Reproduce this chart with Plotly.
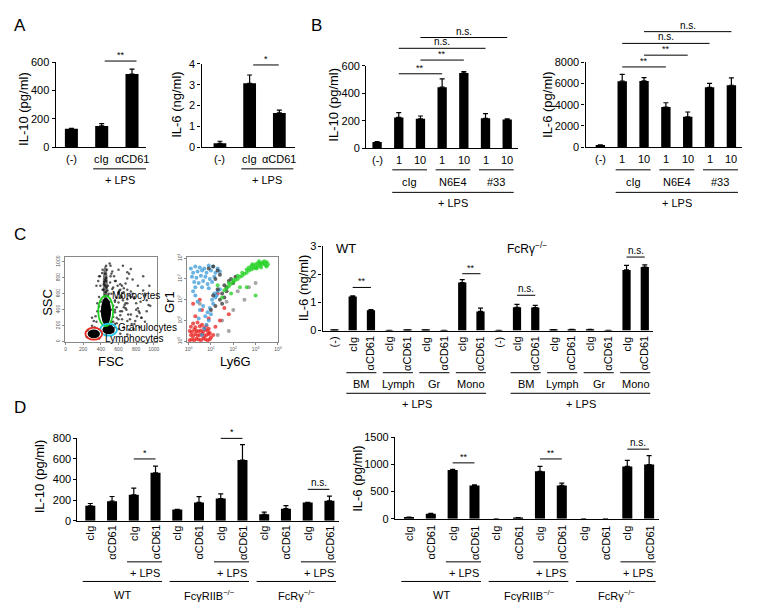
import plotly.graph_objects as go

W, H = 778, 602
FONT = "Liberation Sans, Arial, Helvetica, sans-serif"


def X(px):
    return px / W


def Y(py):
    return 1 - py / H


# ---------------- data ----------------
# Panel A
a_ticks = ["(-)", "cIg", "αCD61"]
a_il10 = [130, 150, 515]
a_il10_err = [3, 16, 35]
a_il6 = [0.19, 3.07, 1.65]
a_il6_err = [0.1, 0.4, 0.13]

# Panel B
b_ticks = ["(-)", "1", "10", "1", "10", "1", "10"]
b_groups = ["cIg", "N6E4", "#33"]
b_il10 = [45, 225, 215, 445, 548, 218, 210]
b_il10_err = [3, 35, 20, 60, 10, 35, 5]
b_il6 = [220, 6200, 6230, 3780, 2860, 5630, 5820]
b_il6_err = [0, 650, 300, 400, 450, 370, 700]
b_sig = [(1, 3, "**"), (2, 4, "**"), (1, 5, "n.s."), (2, 6, "n.s.")]

# Panel C flow: FSC/SSC gates and events
gate_names = ["Monocytes", "Granulocytes", "Lymphocytes"]
gate_fsc = [455, 488, 320]
gate_ssc = [385, 150, 100]
gate_rx = [85, 95, 95]
gate_ry = [190, 75, 75]
gate_colors = ["#1fd01f", "#1cc8e8", "#e8281e"]
core_fsc = [458, 488, 320, 450]
core_ssc = [380, 150, 98, 720]
core_rx = [58, 70, 70, 28]
core_ry = [170, 58, 55, 230]
core_alpha = [1.0, 1.0, 1.0, 0.55]
events_fsc = [420, 460, 500, 380, 450, 520, 600, 650, 700, 560, 480, 420, 540, 620, 700, 760,
              820, 880, 900, 850, 780, 700, 640, 600, 560, 520, 380, 360, 400, 560, 620, 680,
              740, 800, 860, 920, 700, 640, 580, 560, 600, 660, 720, 780, 840, 900, 620, 700,
              540, 350, 330, 250, 240, 380, 300, 480, 430, 500, 660, 740, 950, 960, 430, 450,
              440, 460, 450, 470, 455, 445, 465, 435, 460, 475, 490, 415, 505, 530, 395, 510,
              300, 320, 340, 360, 380, 400, 520, 540, 560, 580, 600, 620, 640, 660, 680, 700,
              720, 740, 760, 780, 800, 820, 840, 860, 880, 900, 920, 940,
              500, 520, 540, 560, 580, 600, 620, 640, 660, 680, 700, 720, 740,
              350, 370, 390, 510, 530, 550, 570, 590, 610, 630, 650, 670, 690, 710, 730, 750,
              770, 790, 810, 830, 480, 500, 520, 540, 560, 580, 600, 620, 640]
events_ssc = [900, 950, 980, 820, 780, 850, 900, 950, 870, 760, 700, 650, 680, 720, 650, 780,
              700, 820, 600, 500, 560, 480, 560, 620, 520, 600, 560, 480, 380, 400, 380, 420,
              340, 400, 300, 380, 260, 280, 300, 220, 160, 180, 150, 220, 180, 250, 100, 90,
              120, 250, 180, 140, 60, 40, 300, 580, 520, 500, 620, 560, 700, 450, 650, 700,
              750, 800, 850, 900, 620, 580, 680, 720, 760, 640, 600, 860, 740, 660, 700, 820,
              200, 260, 320, 380, 440, 500, 250, 310, 370, 430, 490, 550, 610, 670, 730, 790,
              850, 910, 600, 540, 480, 420, 360, 300, 640, 580, 520, 460,
              150, 200, 250, 180, 230, 280, 330, 380, 430, 480, 530, 580, 630,
              700, 760, 820, 950, 880, 820, 760, 700, 640, 580, 520, 460, 400, 340, 280, 220,
              160, 260, 320, 380, 300, 350, 400, 450, 500, 550, 600, 650, 700]

# Panel C flow: Ly6G / Gr1 (log10 decades)
red_ly6g = [0.05, 0.15, 0.25, 0.35, 0.45, 0.55, 0.65, 0.75, 0.85, 0.95,
            0.1, 0.2, 0.3, 0.4, 0.5, 0.6, 0.7, 0.8, 0.9, 1.0,
            0.05, 0.15, 0.25, 0.35, 0.45, 0.55, 0.65, 0.75, 0.85, 0.95,
            0.1, 0.3, 0.5, 0.7, 0.9, 0.2, 0.4, 0.6, 0.8,
            1.1, 1.2, 0.3, 0.6, 1.4, 0.9, 1.6, 0.5, 1.8, 0.2, 1.3]
red_gr1 = [0.05, 0.1, 0.05, 0.12, 0.08, 0.05, 0.15, 0.1, 0.05, 0.1,
           0.3, 0.25, 0.35, 0.28, 0.3, 0.35, 0.25, 0.3, 0.35, 0.2,
           0.5, 0.45, 0.55, 0.5, 0.48, 0.52, 0.45, 0.55, 0.5, 0.4,
           0.7, 0.68, 0.72, 0.65, 0.6, 0.85, 0.9, 0.8, 0.75,
           0.3, 0.7, 1.2, 1.5, 1.0, 1.1, 1.6, 2.0, 1.3, 1.8, 2.3]
blue_ly6g = [0.1, 0.3, 0.5, 0.7, 0.9, 1.1, 1.3, 0.2, 0.4, 0.6, 0.8, 1.0, 1.2, 1.4,
             0.15, 0.35, 0.55, 0.75, 0.95, 1.15, 0.25, 0.45, 0.65, 0.85, 1.05, 0.3, 0.6, 0.9,
             0.6, 0.7, 0.8, 0.9, 0.75, 0.85, 0.95, 1.0, 1.1, 1.05, 1.2, 1.15, 1.3, 1.25, 1.4,
             0.5, 0.4, 0.3, 0.2, 0.45, 0.65]
blue_gr1 = [3.5, 3.6, 3.55, 3.5, 3.65, 3.6, 3.5, 3.3, 3.35, 3.4, 3.3, 3.4, 3.3, 3.35,
            3.1, 3.05, 3.15, 3.1, 3.0, 3.1, 2.85, 2.8, 2.9, 2.75, 2.85, 2.6, 2.6, 2.55,
            0.3, 0.6, 0.8, 1.0, 1.2, 1.4, 1.6, 1.3, 1.8, 2.0, 2.1, 2.3, 2.4, 2.2, 2.5,
            1.5, 1.9, 2.2, 2.4, 1.1, 1.7]
black_ly6g = [1.0, 1.2, 1.4, 1.1, 1.3, 1.5, 1.6, 1.7, 1.8, 1.2, 1.4, 1.9, 2.0, 1.5, 1.6, 1.3,
              1.1, 0.9, 1.7, 2.1]
black_gr1 = [1.5, 1.7, 2.0, 2.2, 2.5, 2.3, 2.7, 2.6, 2.9, 3.0, 3.2, 3.0, 2.8, 1.8, 2.1, 3.4,
             3.6, 3.5, 2.4, 3.1]
green_ly6g = [1.6, 1.7, 1.8, 1.9, 2.0, 2.1, 2.2, 2.3, 2.4, 2.5, 2.6, 2.7, 2.8, 2.9, 3.0, 3.1,
              3.2, 3.3, 3.4, 3.5, 1.8, 2.0, 2.2, 2.4, 2.6, 2.8, 3.0, 3.2, 3.4, 3.55,
              2.7, 2.9, 3.1, 3.3, 3.5, 2.85, 3.05, 3.25, 3.45, 3.15, 1.5, 1.9, 2.3, 1.3, 2.6, 3.0]
green_gr1 = [2.45, 2.55, 2.65, 2.75, 2.85, 2.95, 3.0, 3.1, 3.15, 3.25, 3.3, 3.4, 3.45, 3.5,
             3.55, 3.6, 3.65, 3.7, 3.75, 3.8, 2.8, 2.95, 3.15, 3.3, 3.45, 3.6, 3.7, 3.75, 3.85,
             3.7, 3.55, 3.65, 3.75, 3.8, 3.6, 3.7, 3.5, 3.55, 3.65, 3.85, 2.1, 2.3, 2.6, 2.7,
             2.6, 2.2]
grey_ly6g = [1.5, 2.0, 1.8, 2.5, 0.5, 1.7, 2.2, 3.0, 1.3, 2.7]
grey_gr1 = [1.0, 1.5, 0.5, 2.0, 1.8, 1.9, 2.4, 2.8, 0.3, 2.6]

# Panel C bars
c_cells = ["BM", "Lymph", "Gr", "Mono"]
c_ticks = ["(-)"] + ["cIg", "αCD61"] * 4
c_wt = [0.02, 1.21, 0.72, 0.01, 0.02, 0.02, 0.01, 1.71, 0.68]
c_wt_err = [0, 0.03, 0.03, 0, 0, 0, 0, 0.1, 0.12]
c_ko = [0.01, 0.83, 0.82, 0.03, 0.04, 0.04, 0.01, 2.16, 2.26]
c_ko_err = [0, 0.1, 0.08, 0, 0, 0, 0, 0.16, 0.08]

# Panel D
d_ticks = ["cIg", "αCD61"] * 6
d_genotypes = ["WT", "FcγRIIB<sup>−/−</sup>", "FcRγ<sup>−/−</sup>"]
d_il10 = [145, 190, 252, 465, 110, 178, 215, 590, 62, 117, 178, 194]
d_il10_err = [22, 45, 65, 65, 0, 55, 45, 150, 22, 30, 0, 45]
d_il6 = [30, 90, 900, 615, 0, 20, 875, 615, 0, 0, 965, 1000]
d_il6_err = [0, 8, 10, 12, 0, 0, 90, 40, 0, 0, 110, 165]

# ---------------- figure ----------------
fig = go.Figure()
layout = dict(width=W, height=H, margin=dict(l=0, r=0, t=0, b=0),
              paper_bgcolor="white", plot_bgcolor="white", showlegend=False,
              font=dict(family=FONT, color="black"))
ann = []
shapes = []


def names(i):
    return ("x", "y") if i == 1 else (f"x{i}", f"y{i}")


def axkeys(i):
    return ("xaxis", "yaxis") if i == 1 else (f"xaxis{i}", f"yaxis{i}")


def bar_panel(i, xl, xr, yt, yb, xrange, yrange, tickvals, vals, errs, width):
    xr_, yr_ = names(i)
    kx, ky = axkeys(i)
    layout[kx] = dict(domain=[X(xl), X(xr)], range=xrange, anchor=yr_, showline=True,
                      linecolor="black", linewidth=1.4, showticklabels=False, ticks="",
                      showgrid=False, zeroline=False)
    layout[ky] = dict(domain=[Y(yb), Y(yt)], range=yrange, anchor=xr_, showline=True,
                      linecolor="black", linewidth=1.2, ticks="outside", ticklen=3,
                      tickwidth=1, tickcolor="black", tickvals=tickvals,
                      tickfont=dict(size=11, family=FONT, color="black"),
                      showgrid=False, zeroline=False)
    fig.add_trace(go.Bar(x=list(range(len(vals))), y=vals, width=width, xaxis=xr_, yaxis=yr_,
                         marker=dict(color="black", line=dict(width=0)),
                         error_y=dict(type="data", array=errs, arrayminus=[0] * len(errs),
                                      symmetric=False, color="black", thickness=1.2, width=2.5)))


def txt(xref, x, ypx, text, size=11, angle=0, yanchor="middle", xanchor="center"):
    ann.append(dict(xref=xref, x=x, yref="paper", y=Y(ypx), text=text, showarrow=False,
                    font=dict(size=size, color="black", family=FONT), textangle=angle,
                    xanchor=xanchor, yanchor=yanchor, borderpad=0))


def ptxt(xpx, ypx, text, size=11, angle=0, xanchor="center"):
    txt("paper", X(xpx), ypx, text, size=size, angle=angle, xanchor=xanchor)


def hline(xref, x0, x1, ypx, w=1.0):
    shapes.append(dict(type="line", xref=xref, yref="paper", x0=x0, x1=x1, y0=Y(ypx), y1=Y(ypx),
                       line=dict(color="black", width=w)))


def sig(xref, x0, x1, ypx, text):
    hline(xref, x0, x1, ypx)
    size = 9 if "*" in text else 10
    txt(xref, (x0 + x1) / 2, ypx, text, size=size, yanchor="bottom")


# ---- Panel A ----
bar_panel(1, 46, 137, 49, 136, [-0.52, 2.46], [0, 600], [0, 200, 400, 600], a_il10, a_il10_err, 0.43)
bar_panel(2, 193, 287, 51, 136, [-0.62, 2.52], [0, 4], [0, 1, 2, 3, 4], a_il6, a_il6_err, 0.43)
for xr in ("x", "x2"):
    for k, t in enumerate(a_ticks):
        txt(xr, k, 148, t)
    hline(xr, 0.72, 2.47, 158)
    txt(xr, 1.6, 169, "+ LPS")
sig("x", 1.1, 2.15, 48, "**")
sig("x2", 1.12, 1.98, 52, "*")
ptxt(13, 97, "IL-10 (pg/ml)", size=13, angle=-90)
ptxt(167, 93, "IL-6 (ng/ml)", size=13, angle=-90)

# ---- Panel B ----
bar_panel(3, 359, 512, 53, 137, [-0.5, 6.5], [0, 600], [0, 200, 400, 600], b_il10, b_il10_err, 0.43)
bar_panel(4, 580, 738, 49, 136, [-0.68, 6.5], [0, 8000], [0, 2000, 4000, 6000, 8000], b_il6, b_il6_err, 0.43)
for xr, ytk in (("x3", 149), ("x4", 148)):
    for k, t in enumerate(b_ticks):
        txt(xr, k, ytk, t)
    txt(xr, 7.4, ytk, "(µg/ml)")
    for g, name in enumerate(b_groups):
        hline(xr, 2 * g + 0.7, 2 * g + 2.3, 159)
        txt(xr, 2 * g + 1.5, 171, name)
    hline(xr, 0.7, 6.3, 182)
    txt(xr, 3.5, 193, "+ LPS")
for (a, b, t), yy in zip(b_sig, (61, 47, 35, 24)):
    sig("x3", a, b, yy, t)
for (a, b, t), yy in zip(b_sig, (54, 42, 30, 18)):
    sig("x4", a, b, yy, t)
ptxt(326, 92, "IL-10 (pg/ml)", size=13, angle=-90)
ptxt(541, 93, "IL-6 (pg/ml)", size=13, angle=-90)

# ---- Panel C bars ----
c_vals = c_wt + c_ko
c_errs = c_wt_err + c_ko_err
bar_panel(5, 315, 648, 237, 323, [-0.65, 17.45], [0, 3], [0, 1, 2, 3], c_vals, c_errs, 0.45)
for k, t in enumerate(c_ticks + c_ticks):
    txt("x5", k, 328, t, size=11, angle=-90, yanchor="top")
for off in (0, 9):
    for g, name in enumerate(c_cells):
        hline("x5", off + 2 * g + 0.65, off + 2 * g + 2.3, 366)
        txt("x5", off + 2 * g + 1.5, 378, name)
    hline("x5", off + 0.65, off + 8.3, 387)
    txt("x5", off + 4.5, 398, "+ LPS")
sig("x5", 1, 2, 279, "**")
sig("x5", 7, 8, 265, "**")
sig("x5", 10, 11, 287, "n.s.")
sig("x5", 16, 17, 248, "n.s.")
ptxt(339, 239, "WT", size=13)
ptxt(500, 239, "FcRγ<sup>−/−</sup>", size=12, xanchor="left")
ptxt(296, 280, "IL-6 (ng/ml)", size=13, angle=-90)

# ---- Panel D ----
bar_panel(6, 68, 332, 433, 517, [-0.59, 11.46], [0, 800], [0, 200, 400, 600, 800], d_il10, d_il10_err, 0.46)
bar_panel(7, 388, 654, 432, 515, [-0.64, 11.45], [0, 1500], [0, 500, 1000, 1500], d_il6, d_il6_err, 0.46)
for xr in ("x6", "x7"):
    for k, t in enumerate(d_ticks):
        txt(xr, k, 521, t, size=11, angle=-90, yanchor="top")
    for g, name in enumerate(d_genotypes):
        hline(xr, 4 * g + 1.69, 4 * g + 3.3, 559)
        txt(xr, 4 * g + 2.5, 570, "+ LPS")
        hline(xr, 4 * g - 0.35, 4 * g + 3.3, 579)
        txt(xr, 4 * g + 1.5, 593, name)
sig("x6", 2, 3, 454, "*")
sig("x6", 6, 7, 433, "*")
sig("x6", 10, 11, 485, "n.s.")
sig("x7", 2, 3, 458, "**")
sig("x7", 6, 7, 454, "**")
sig("x7", 10, 11, 444, "n.s.")
ptxt(30, 472, "IL-10 (pg/ml)", size=13, angle=-90)
ptxt(350, 474, "IL-6 (pg/ml)", size=13, angle=-90)

# ---- Panel C flow plots ----
flow_ax = dict(showline=True, mirror=True, linecolor="#888", linewidth=1, ticks="outside",
               ticklen=2, tickcolor="#888", tickfont=dict(size=5, color="#555", family=FONT),
               showgrid=False, zeroline=False)
layout["xaxis8"] = dict(flow_ax, domain=[X(55), X(148)], range=[-11, 1035], anchor="y8",
                        tickvals=[0, 200, 400, 600, 800, 1000])
layout["yaxis8"] = dict(flow_ax, domain=[Y(335), Y(248)], range=[-8, 1060], anchor="x8",
                        tickvals=[0, 200, 400, 600, 800, 1000], tickangle=-90)
fig.add_trace(go.Scatter(x=events_fsc, y=events_ssc, mode="markers", xaxis="x8", yaxis="y8",
                         marker=dict(size=2.5, color="#222", opacity=0.75)))
for cx, cy, rx, ry, al in zip(core_fsc, core_ssc, core_rx, core_ry, core_alpha):
    shapes.append(dict(type="circle", xref="x8", yref="y8", x0=cx - rx, x1=cx + rx,
                       y0=cy - ry, y1=cy + ry, fillcolor="black", opacity=al,
                       line=dict(width=0)))
for cx, cy, rx, ry, col in zip(gate_fsc, gate_ssc, gate_rx, gate_ry, gate_colors):
    shapes.append(dict(type="circle", xref="x8", yref="y8", x0=cx - rx, x1=cx + rx,
                       y0=cy - ry, y1=cy + ry, line=dict(color=col, width=1.8)))
for name, xl, yy in zip(gate_names, (102, 108, 95), (287, 320, 331)):
    ptxt(xl, yy, name, size=10, xanchor="left")

dec = ["10<sup>0</sup>", "10<sup>1</sup>", "10<sup>2</sup>", "10<sup>3</sup>", "10<sup>4</sup>"]
layout["xaxis9"] = dict(flow_ax, domain=[X(178), X(270)], range=[-0.09, 4.0], anchor="y9",
                        tickvals=[0, 1, 2, 3, 4], ticktext=dec)
layout["yaxis9"] = dict(flow_ax, domain=[Y(335), Y(248)], range=[-0.05, 4.05], anchor="x9",
                        tickvals=[0, 1, 2, 3, 4], tickangle=-90, ticktext=dec)
for xs, ys, col in ((grey_ly6g, grey_gr1, "#888"), (red_ly6g, red_gr1, "#e8201e"),
                    (blue_ly6g, blue_gr1, "#3a9ad9"), (black_ly6g, black_gr1, "#333"),
                    (green_ly6g, green_gr1, "#22d022")):
    fig.add_trace(go.Scatter(x=xs, y=ys, mode="markers", xaxis="x9", yaxis="y9",
                             marker=dict(size=4, color=col, opacity=0.75)))

for t, xc, yc, ang in (("SSC", 37, 294, -90), ("FSC", 102, 355, 0), ("Gr1", 160, 294, -90),
                       ("Ly6G", 227, 355, 0)):
    ptxt(xc, yc, t, size=13, angle=ang)

# ---- panel letters ----
for t, xc, yc in (("A", 10, 12), ("B", 309, 12), ("C", 10, 225), ("D", 10, 402)):
    ptxt(xc, yc, t, size=17)

layout["annotations"] = ann
layout["shapes"] = shapes
fig.update_layout(**layout)
fig.write_html("out.html")
